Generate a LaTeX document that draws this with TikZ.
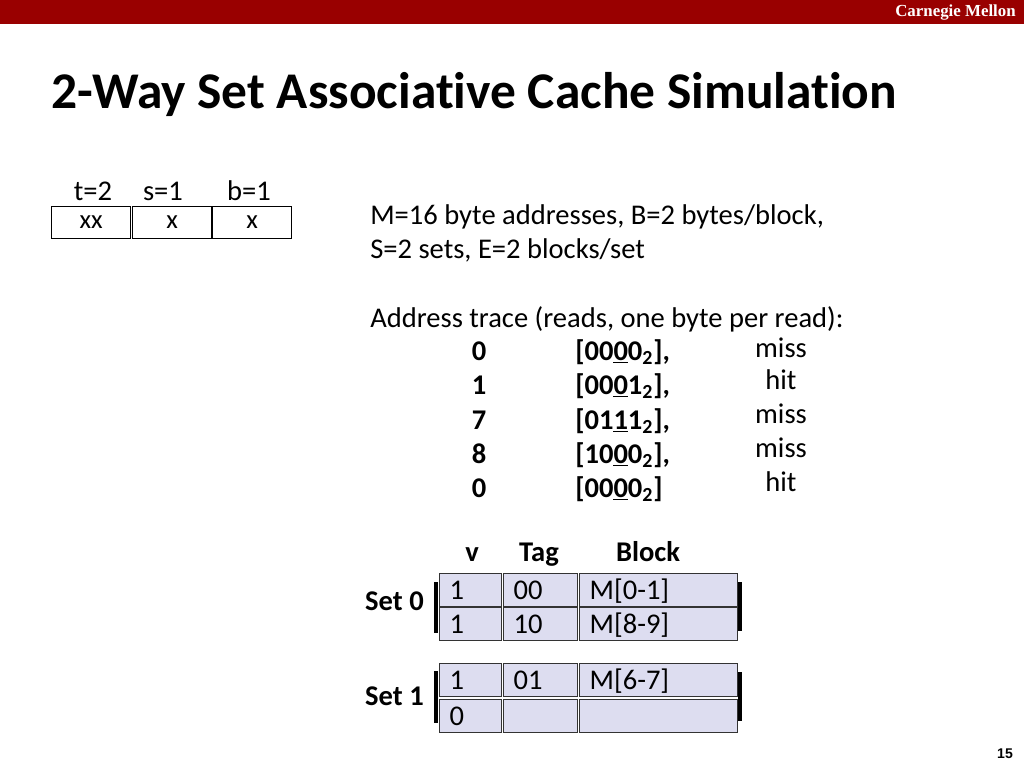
\documentclass[tikz,border=0pt]{standalone}
\usepackage{fontspec}
\setmainfont{Carlito}[Ligatures=NoCommon]
\newfontfamily\logofont{Liberation Serif}
\newfontfamily\pagefont{Liberation Sans}
\usetikzlibrary{calc}
\definecolor{cmured}{HTML}{990000}
\definecolor{cellfill}{HTML}{DDDDF0}
\definecolor{celledge}{HTML}{333333}
\tikzset{
  body/.style={font=\fontsize{20.3}{24}\selectfont, inner sep=0pt, text height=13pt, text depth=0pt},
  bbody/.style={body, font=\fontsize{20.3}{24}\selectfont\bfseries},
  fieldbox/.style={draw, line width=0.8pt, minimum width=1.975cm, minimum height=0.8cm,
    inner sep=0pt, anchor=north west, font=\fontsize{19}{22}\selectfont},
  cell/.style={draw=celledge, line width=0.9pt, fill=cellfill, minimum height=0.825cm,
    inner xsep=0.25cm, inner ysep=0pt, anchor=north west, text height=14pt, text depth=1pt,
    font=\fontsize{20.3}{24}\selectfont},
  vcell/.style={cell, minimum width=1.55cm, text width=1.05cm},
  tcell/.style={cell, minimum width=1.85cm, text width=1.35cm},
  bcell/.style={cell, minimum width=3.95cm, text width=3.45cm},
  brk/.style={line width=2.6pt},
}

\begin{document}
\begin{tikzpicture}[x=0.025cm, y=-0.025cm]
  \useasboundingbox (0,0) rectangle (1024,768);

  % top bar
  \fill[cmured] (0,0) rectangle (1024,24);
  \node[text=white, font=\logofont\bfseries\fontsize{12}{13}\selectfont, anchor=east, inner sep=0pt]
    (logo) at (1016,13) {Carnegie Mellon};

  \node[font=\fontsize{36.6}{42}\selectfont\bfseries, anchor=west, inner sep=0pt]
    (title) at (51,94) {2-Way Set Associative Cache Simulation};

  % address fields
  \node[fieldbox] (ft) at (51,206) {xx};
  \node[fieldbox] (fs) at (132,206) {x};
  \node[fieldbox] (fb) at (212,206) {x};
  \node[body] (lt) at (93,191) {t=2};
  \node[body] (ls) at (163,191) {s=1};
  \node[body] (lb) at (249,191) {b=1};

  % parameters
  \node[body, anchor=west] (par1) at (370,215) {M=16 byte addresses, B=2 bytes/block,};
  \node[body, anchor=west] (par2) at (370,249) {S=2 sets, E=2 blocks/set};
  \node[body, anchor=west] (trace) at (370,318) {Address trace (reads, one byte per read):};

  % trace rows
  \node[bbody] (a1) at (479,351) {0};
  \node[bbody] (a2) at (479,385) {1};
  \node[bbody] (a3) at (479,420) {7};
  \node[bbody] (a4) at (479,454) {8};
  \node[bbody] (a5) at (479,488) {0};
  \node[bbody, anchor=west] (b1) at (575,351) {[00\underline{0}0\textsubscript{2}],};
  \node[bbody, anchor=west] (b2) at (575,385) {[00\underline{0}1\textsubscript{2}],};
  \node[bbody, anchor=west] (b3) at (575,420) {[01\underline{1}1\textsubscript{2}],};
  \node[bbody, anchor=west] (b4) at (575,454) {[10\underline{0}0\textsubscript{2}],};
  \node[bbody, anchor=west] (b5) at (575,488) {[00\underline{0}0\textsubscript{2}]};
  \node[body] (r1) at (781,348) {miss};
  \node[body] (r2) at (781,380) {hit};
  \node[body] (r3) at (781,414) {miss};
  \node[body] (r4) at (781,448) {miss};
  \node[body] (r5) at (781,482) {hit};

  % cache
  \node[bbody] (hv) at (472,552) {v};
  \node[bbody] (ht) at (539,552) {Tag};
  \node[bbody] (hb) at (648,552) {Block};

  \node[vcell] (s0v1) at (439,573) {1};
  \node[tcell] (s0t1) at (503,573) {00};
  \node[bcell] (s0b1) at (579,573) {M[0-1]};
  \node[vcell] (s0v2) at (439,607) {1};
  \node[tcell] (s0t2) at (503,607) {10};
  \node[bcell] (s0b2) at (579,607) {M[8-9]};

  \node[vcell] (s1v1) at (439,663) {1};
  \node[tcell] (s1t1) at (503,663) {01};
  \node[bcell] (s1b1) at (579,663) {M[6-7]};
  \node[vcell] (s1v2) at (439,699) {0};
  \node[tcell] (s1t2) at (503,699) {};
  \node[bcell] (s1b2) at (579,699) {};

  \draw[brk] ($(s0v1.north west)+(-3,9)$) -- ($(s0v2.south west)+(-3,-8)$);
  \draw[brk] ($(s0b1.north east)+(2,9)$) -- ($(s0b2.south east)+(2,-10)$);
  \draw[brk] ($(s1v1.north west)+(-3,8)$) -- ($(s1v2.south west)+(-3,-10)$);
  \draw[brk] ($(s1b1.north east)+(2,9)$) -- ($(s1b2.south east)+(2,-12)$);

  \node[bbody, anchor=east] (set0) at (424,601) {Set 0};
  \node[bbody, anchor=east] (set1) at (424,696) {Set 1};

  \node[font=\pagefont\bfseries\fontsize{10}{11}\selectfont, inner sep=0pt] (page) at (1005,754) {15};
\end{tikzpicture}
\end{document}
